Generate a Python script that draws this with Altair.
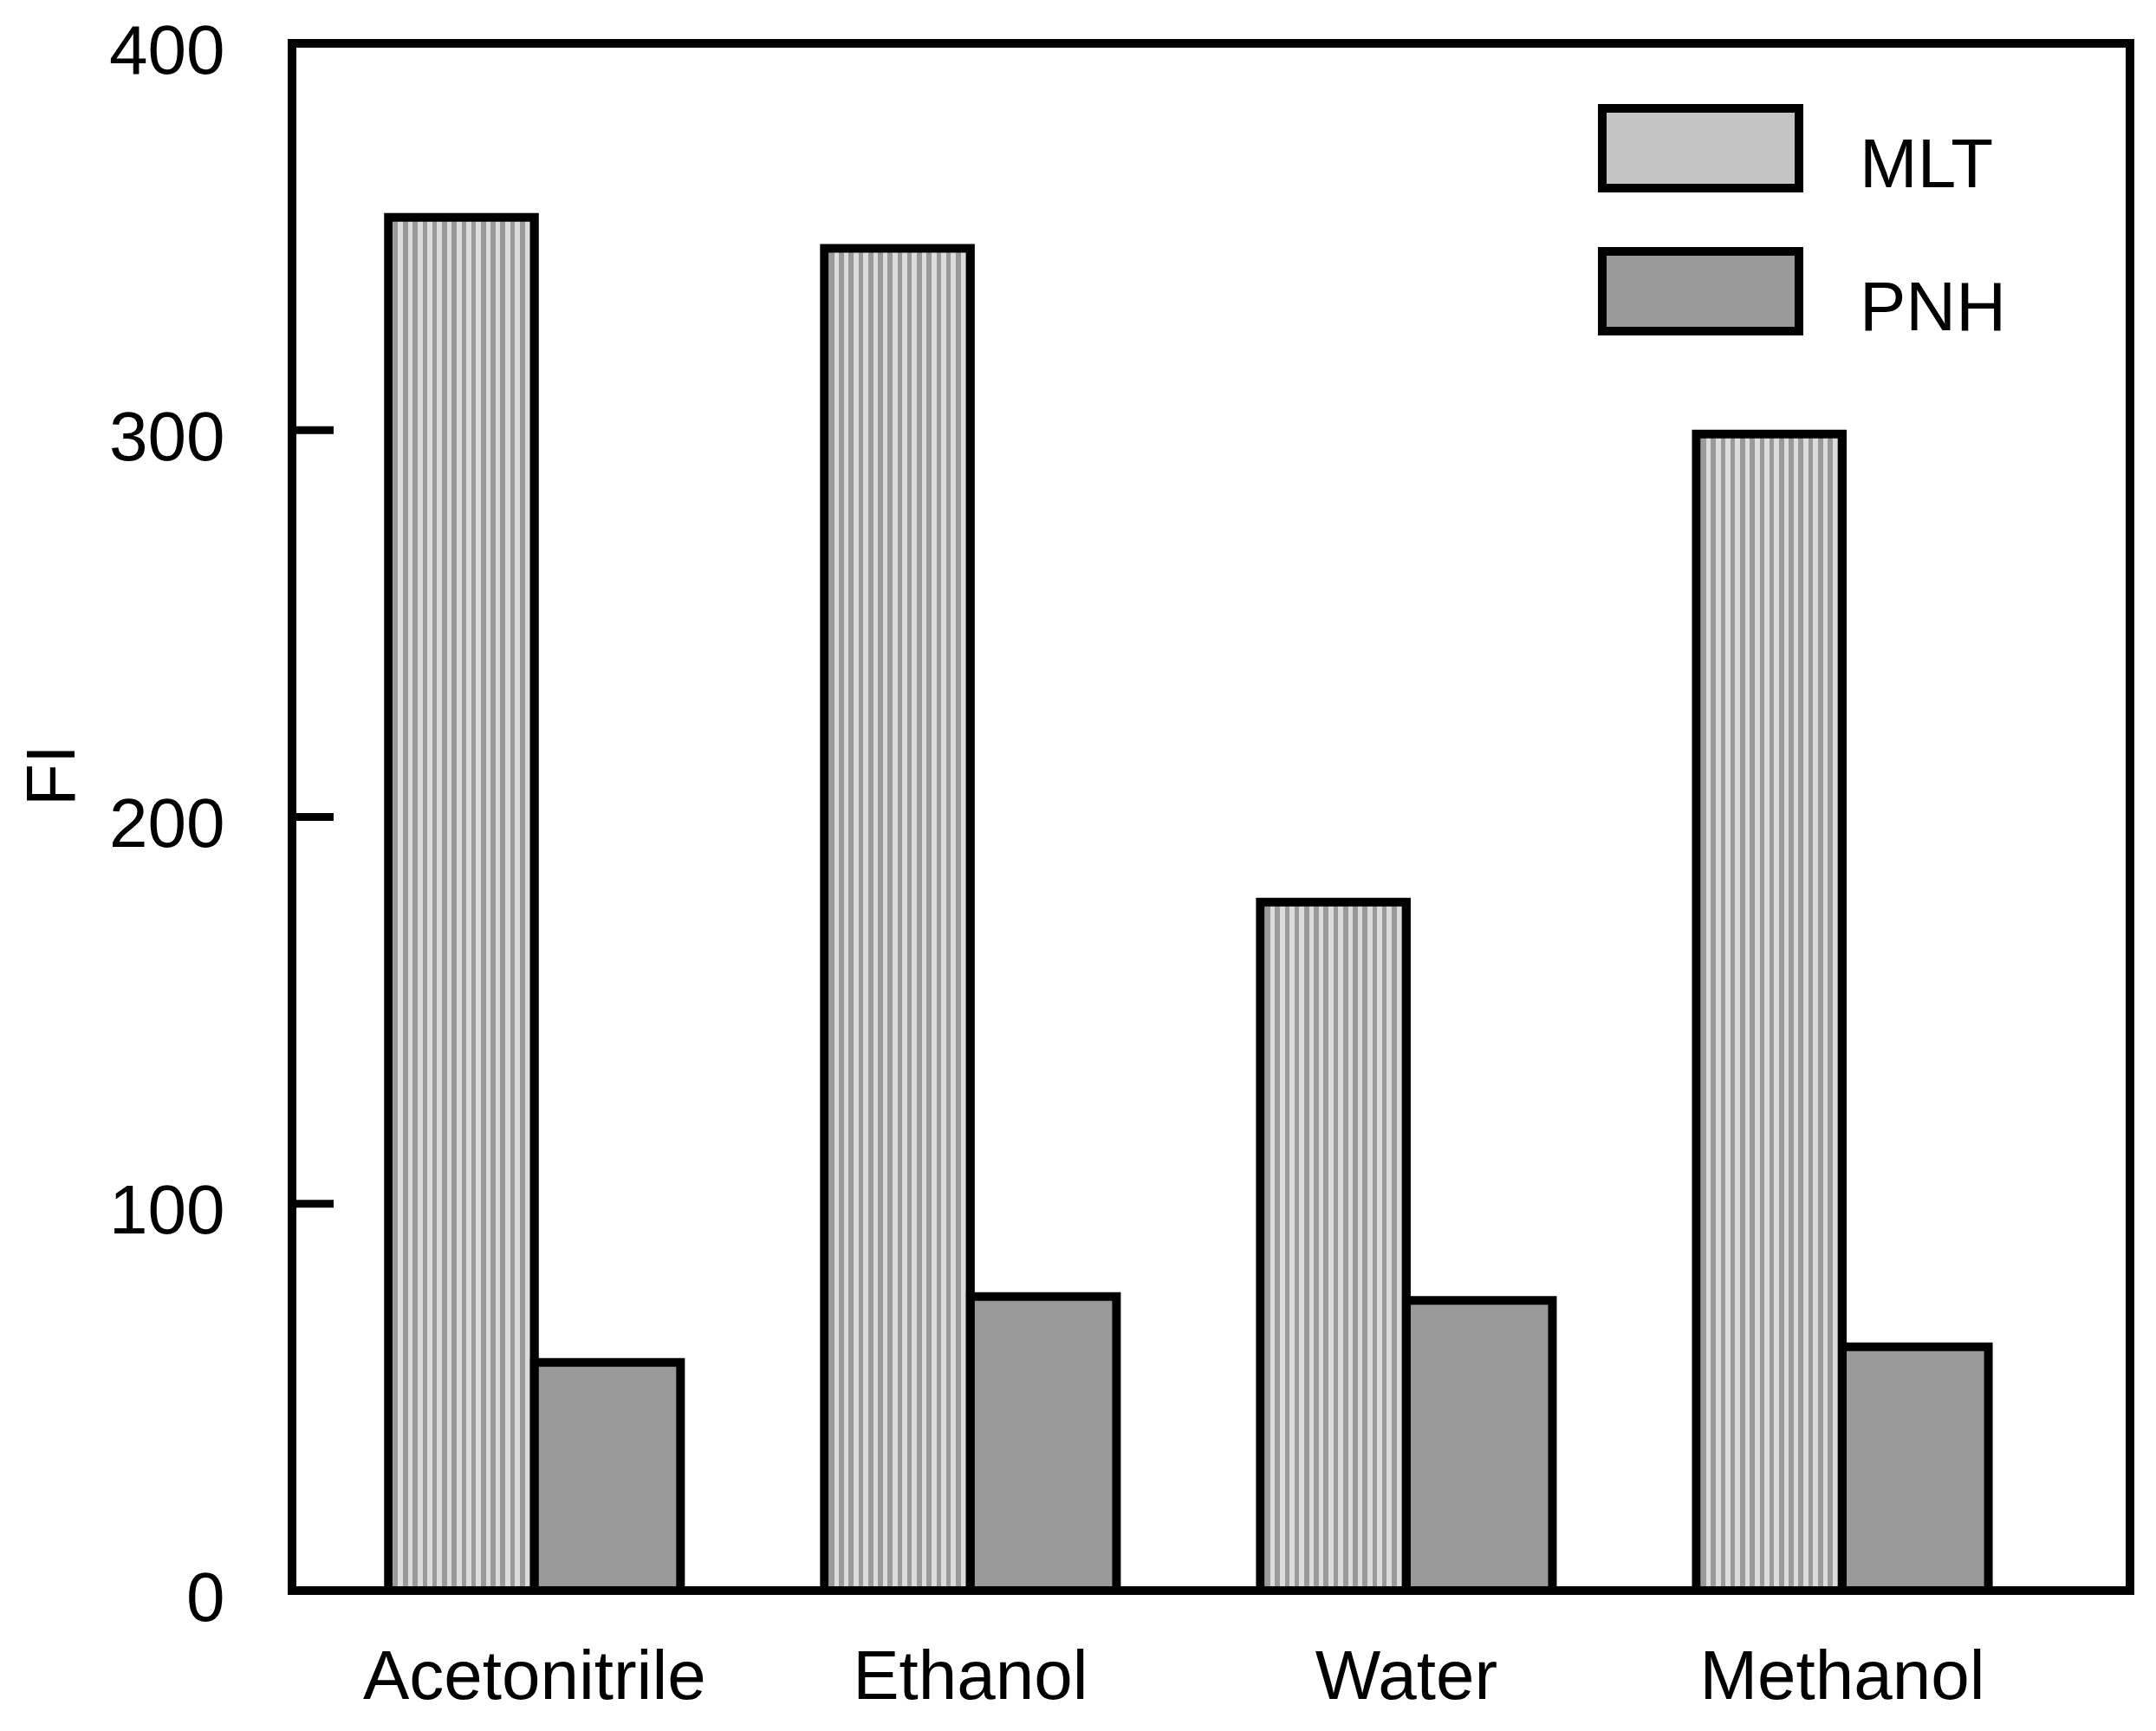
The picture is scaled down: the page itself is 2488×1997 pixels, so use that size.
import altair as alt
import pandas as pd

solvents = ["Acetonitrile", "Ethanol", "Water", "Methanol"]
series = ["MLT", "PNH"]
mlt_values = [355, 347, 178, 299]
pnh_values = [59, 76, 75, 63]
y_ticks = [100, 200, 300]

FONT = "Liberation Sans"
LIGHT = "#dcdcdc"
DARK = "#9a9a9a"
PNH_FILL = "#999999"

rows = []
for s, m, p in zip(solvents, mlt_values, pnh_values):
    rows.append({"solvent": s, "series": "MLT", "FI": m})
    rows.append({"solvent": s, "series": "PNH", "FI": p})
df = pd.DataFrame(rows)
ticks_df = pd.DataFrame({"t": y_ticks})

# striped fill imitating the dotted hatch
n = 15
stops = []
for i in range(n):
    a = i / n
    b = (i + 0.5) / n
    c = (i + 1) / n
    stops += [
        alt.GradientStop(offset=a, color=LIGHT),
        alt.GradientStop(offset=b, color=LIGHT),
        alt.GradientStop(offset=b, color=DARK),
        alt.GradientStop(offset=c, color=DARK),
    ]
stripes = alt.LinearGradient(gradient="linear", stops=stops, x1=0, x2=1, y1=0, y2=0)

xscale = alt.Scale(domain=solvents, paddingInner=0.33, paddingOuter=0.273, align=0.405)
yscale = alt.Scale(domain=[0, 400], nice=False, zero=True)

xenc = alt.X(
    "solvent:N",
    scale=xscale,
    sort=solvents,
    axis=alt.Axis(
        title=None, labelAngle=0, ticks=False, domain=False, labelLimit=0,
        labelFont=FONT, labelFontSize=80, labelColor="black", labelPadding=61,
    ),
)
yenc = alt.Y(
    "FI:Q",
    scale=yscale,
    axis=alt.Axis(
        title="FI", values=[0, 100, 200, 300, 400], ticks=False, domain=False, grid=False,
        labelFont=FONT, labelFontSize=80, labelColor="black", labelPadding=78, labelOffset=10,
        titleFont=FONT, titleFontSize=80, titleFontWeight="normal", titleColor="black",
        titleAngle=270, titleX=-252, titleY=844, titleBaseline="alphabetic", titleAlign="center",
    ),
)
xoff = alt.XOffset("series:N", scale=alt.Scale(domain=series, paddingInner=0, paddingOuter=0))

base = alt.Chart(df)

mlt = base.transform_filter(alt.datum.series == "MLT").mark_bar(
    fill=stripes, stroke="black", strokeWidth=10
).encode(x=xenc, y=yenc, xOffset=xoff)

legend_path = "M-1,-0.585L1,-0.585L1,0.225L-1,0.225Z"
pnh = base.transform_filter(alt.datum.series == "PNH").mark_bar(
    stroke="black", strokeWidth=10
).encode(
    x=xenc,
    y=yenc,
    xOffset=xoff,
    fill=alt.Fill(
        "series:N",
        scale=alt.Scale(domain=series, range=["#c4c4c4", PNH_FILL]),
        legend=alt.Legend(
            title=None, orient="none", legendX=1507, legendY=23,
            symbolType=legend_path, symbolSize=51529, symbolStrokeColor="black",
            symbolStrokeWidth=10, symbolOpacity=1,
            labelFont=FONT, labelFontSize=80, labelColor="black", labelOffset=65,
            labelLimit=0, rowPadding=-84, padding=0,
        ),
    ),
)

tick_marks = alt.Chart(ticks_df).mark_rule(color="black", strokeWidth=9).encode(
    y=alt.Y("t:Q", scale=yscale), x=alt.value(0), x2=alt.value(48)
)

chart = alt.layer(mlt, pnh, tick_marks).properties(
    width=2121,
    height=1785,
    background="white",
    autosize=alt.AutoSizeParams(type="none"),
    padding={"left": 329, "top": 42, "right": 20, "bottom": 160},
).configure_view(stroke="black", strokeWidth=10, fill="white")

chart.save("out.html", embed_options={"renderer": "svg", "actions": False})
